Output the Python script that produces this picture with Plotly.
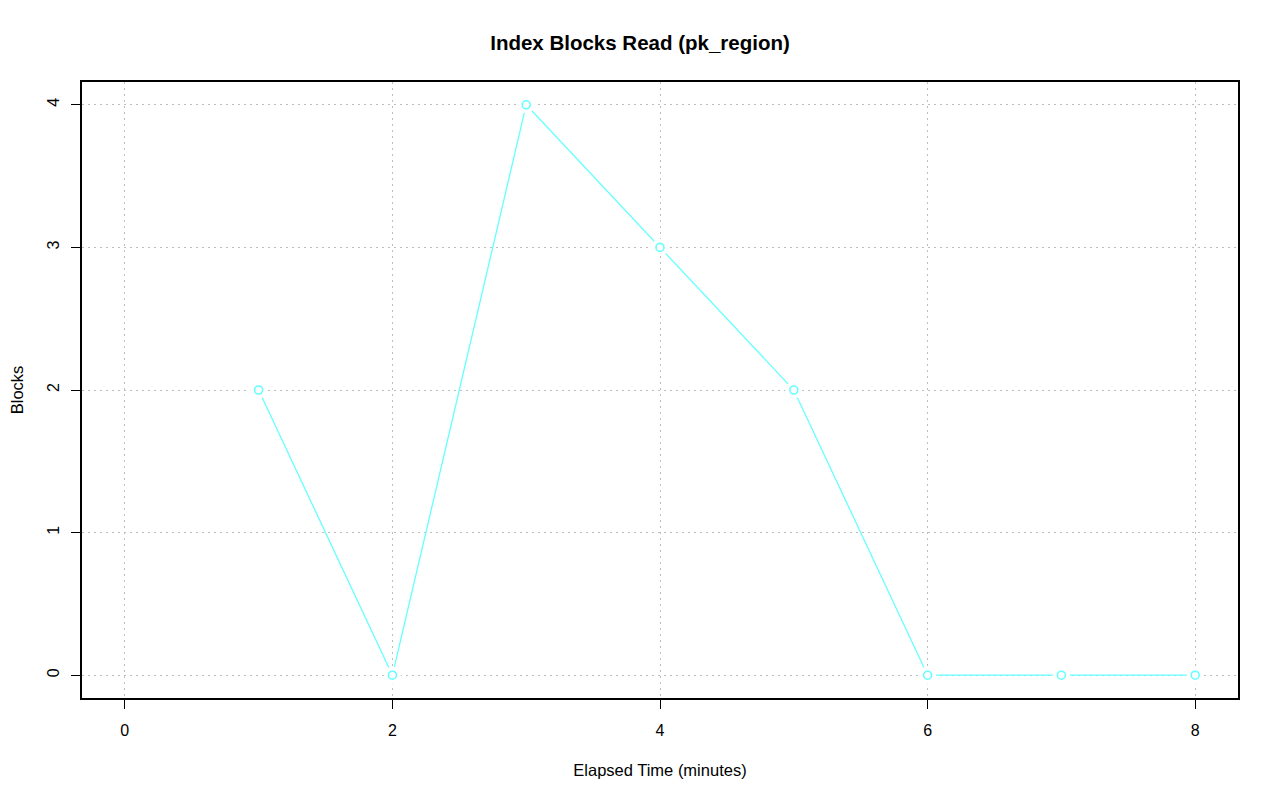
import plotly.graph_objects as go

minutes = [1, 2, 3, 4, 5, 6, 7, 8]
blocks = [2, 0, 4, 3, 2, 0, 0, 0]
x_ticks = [0, 2, 4, 6, 8]
y_ticks = [0, 1, 2, 3, 4]

FONT = "Liberation Sans, Arial"
line_color = "#66ffff"
fig = go.Figure()
fig.add_trace(go.Scatter(x=minutes, y=blocks, mode="lines",
                         line=dict(color=line_color, width=1.3), hoverinfo="skip"))
fig.add_trace(go.Scatter(x=minutes, y=blocks, mode="markers",
                         marker=dict(color="white", size=17, line=dict(width=0)), hoverinfo="skip"))
fig.add_trace(go.Scatter(x=minutes, y=blocks, mode="markers",
                         marker=dict(symbol="circle-open", color=line_color, size=8,
                                     line=dict(width=1.6, color=line_color))))

axis_common = dict(
    showline=True, linecolor="black", linewidth=1.6, mirror=True,
    ticks="outside", ticklen=9, tickwidth=1.2, tickcolor="black",
    showgrid=True, gridcolor="#bdbdbd", griddash="1.5px,4.5px", gridwidth=1.2,
    zeroline=False, tickfont=dict(family=FONT, size=16, color="black"),
    automargin=False,
)

W, H = 1264, 785
fig.update_layout(
    width=W, height=H,
    margin=dict(l=74, r=34, t=74, b=95),
    paper_bgcolor="white", plot_bgcolor="white",
    showlegend=False,
    title=dict(text="<b>Index Blocks Read (pk_region)</b>", x=0.5, xanchor="center",
               y=1 - 35 / H, yanchor="middle",
               font=dict(family=FONT, size=20.5, color="black")),
    xaxis=dict(range=[-0.32, 8.32], tickvals=x_ticks, ticktext=[str(v) for v in x_ticks],
               ticklabelstandoff=8,
               title=dict(text="Elapsed Time (minutes)", standoff=26,
                          font=dict(family=FONT, size=16.5, color="black")),
               **axis_common),
    yaxis=dict(range=[-0.16, 4.16], tickvals=y_ticks, ticktext=[str(v) for v in y_ticks],
               tickangle=-90, ticklabelstandoff=6,
               title=dict(text="Blocks", standoff=29,
                          font=dict(family=FONT, size=16.5, color="black")),
               **axis_common),
)

fig.write_html("out.html")
